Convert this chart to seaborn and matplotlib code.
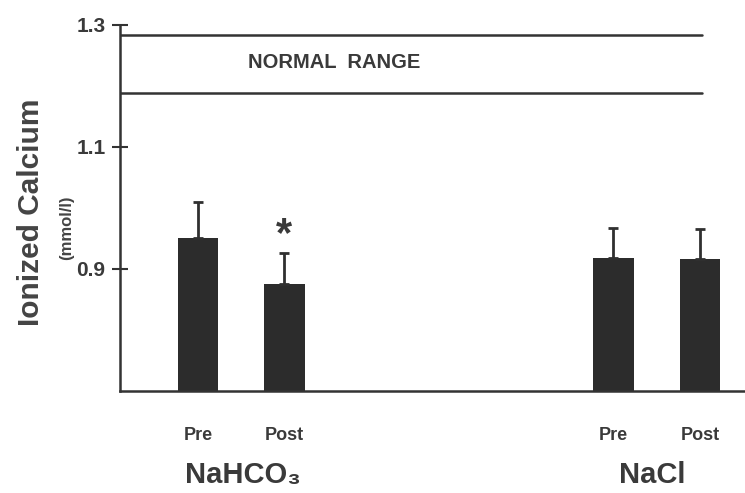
import matplotlib
matplotlib.use("Agg")
import matplotlib.pyplot as plt
import matplotlib.transforms as mtransforms
import seaborn as sns
import pandas as pd

# ---- data ----
groups = ["NaHCO₃", "NaHCO₃", "NaCl", "NaCl"]
phases = ["Pre", "Post", "Pre", "Post"]
calcium = [0.951, 0.875, 0.918, 0.916]
sem = [0.059, 0.051, 0.049, 0.050]
normal_low = 1.189
normal_high = 1.284
yticks = [0.9, 1.1, 1.3]
group_names = ["NaHCO₃", "NaCl"]

# ---- layout ----
xpos = [0.0, 1.0, 4.8, 5.8]
df = pd.DataFrame({"x": xpos, "calcium": calcium, "phase": phases, "group": groups})

sns.set_theme(style="white")
plt.rcParams["font.family"] = ["Liberation Sans", "DejaVu Sans"]
txt = "#3a3a3a"
bar_c = "#2c2c2c"

fig = plt.figure(figsize=(7.45, 4.93), dpi=100)
ax = fig.add_axes([120 / 745, 1 - 391 / 493, 625 / 745, 366 / 493])

sns.barplot(data=df, x="x", y="calcium", native_scale=True, width=0.47,
            color=bar_c, saturation=1, errorbar=None, ax=ax, linewidth=0)
for b in ax.patches:
    b.set_y(0.7)
    b.set_height(b.get_height() - 0.7)

ax.errorbar(df["x"], df["calcium"], yerr=[[0] * 4, sem], fmt="none",
            ecolor="#303030", elinewidth=2, capsize=3.5, capthick=2)

line_end = (702 - 120) / 625
ax.axhline(normal_high, xmax=line_end, color="#333333", lw=1.8)
ax.axhline(normal_low, xmax=line_end, color="#333333", lw=1.8)
ax.text(1.58, (normal_low + normal_high) / 2 + 0.002, "NORMAL  RANGE",
        fontsize=14.5, fontweight="bold", color=txt, ha="center", va="center")

ax.text(1.0, 0.955, "*", fontsize=30, fontweight="bold", color=txt,
        ha="center", va="center")

ax.set_ylim(0.7, 1.3)
ax.set_xlim(-0.9, 6.32)
ax.set_yticks(yticks)
ax.set_yticklabels([f"{v:.1f}" for v in yticks], fontsize=15,
                   fontweight="bold", color=txt)
ax.tick_params(axis="y", direction="inout", length=11, width=1.5,
               color="#333333", pad=5, left=True)
ax.set_xticks(xpos)
ax.set_xticklabels(phases, fontsize=13, fontweight="bold", color=txt)
ax.tick_params(axis="x", length=0, pad=26)

for s in ["top", "right"]:
    ax.spines[s].set_visible(False)
for s in ["left", "bottom"]:
    ax.spines[s].set_color("#333333")
    ax.spines[s].set_linewidth(1.8)

ax.set_xlabel("")
ax.set_ylabel("")

trans = mtransforms.blended_transform_factory(ax.transData, fig.transFigure)
ax.text(0.52, 1 - 475 / 493, group_names[0], transform=trans, fontsize=21,
        fontweight="bold", color=txt, ha="center", va="center")
ax.text(5.25, 1 - 475 / 493, group_names[1], transform=trans, fontsize=21,
        fontweight="bold", color=txt, ha="center", va="center")

fig.text(31 / 745, 1 - 212 / 493, "Ionized Calcium", rotation=90, fontsize=21.5,
         fontweight="bold", color="#444444", ha="center", va="center")
fig.text(67 / 745, 1 - 228 / 493, "(mmol/l)", rotation=90, fontsize=12,
         fontweight="bold", color="#444444", ha="center", va="center")

fig.savefig("out.png", dpi=100)
